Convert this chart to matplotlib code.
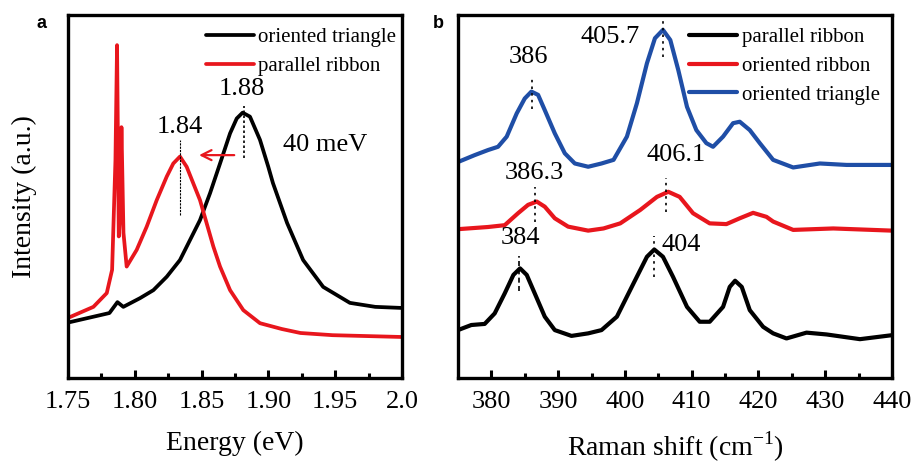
import numpy as np
import matplotlib.pyplot as plt

plt.rcParams['font.family'] = ['Liberation Serif', 'DejaVu Serif']
plt.rcParams['mathtext.fontset'] = 'custom'
plt.rcParams['mathtext.rm'] = 'Liberation Serif'

# ---- panel a: PL spectra (normalised intensity, arbitrary units) ----
pl_tri_e = [1.7515, 1.781, 1.787, 1.7914, 1.8039, 1.8139, 1.8239, 1.8338,
            1.8413, 1.8488, 1.8563, 1.8638, 1.8713, 1.8763, 1.8807, 1.8862,
            1.8937, 1.8999, 1.9034, 1.914, 1.926, 1.941, 1.961, 1.98, 2.0]
pl_tri_i = [0.154, 0.179, 0.209, 0.196, 0.220, 0.242, 0.279, 0.325,
            0.380, 0.435, 0.509, 0.591, 0.674, 0.715, 0.731, 0.720,
            0.656, 0.582, 0.537, 0.427, 0.325, 0.251, 0.207, 0.196, 0.193]

pl_rib_e = [1.7515, 1.769, 1.779, 1.783, 1.7855, 1.7867, 1.788, 1.789, 1.790,
            1.7915, 1.7939, 1.8014, 1.8089, 1.8164, 1.8239, 1.8288, 1.8338,
            1.8388, 1.8438, 1.8488, 1.8538, 1.8588, 1.8638, 1.8713, 1.8812,
            1.8937, 1.91, 1.924, 1.948, 2.0]
pl_rib_i = [0.168, 0.196, 0.234, 0.298, 0.60, 0.917, 0.39, 0.45, 0.691,
            0.40, 0.307, 0.353, 0.417, 0.490, 0.555, 0.591, 0.610,
            0.582, 0.536, 0.490, 0.426, 0.362, 0.307, 0.242, 0.187,
            0.151, 0.135, 0.124, 0.118, 0.113]

# ---- panel b: Raman spectra ----
ram_tri_w = [375.0, 377.5, 379.5, 381.0, 382.3, 383.8, 385.0, 386.0, 387.0,
             388.0, 389.5, 391.0, 392.5, 394.5, 396.5, 398.3, 400.3, 401.8,
             403.3, 404.5, 405.7, 406.8, 408.0, 409.3, 410.7, 412.2, 413.2,
             414.7, 416.2, 417.2, 418.7, 420.2, 422.2, 425.2, 429.2, 433.2,
             440.0]
ram_tri_i = [0.595, 0.614, 0.628, 0.637, 0.665, 0.729, 0.770, 0.789, 0.780,
             0.738, 0.674, 0.619, 0.591, 0.582, 0.591, 0.601, 0.665, 0.757,
             0.867, 0.936, 0.959, 0.931, 0.848, 0.747, 0.683, 0.647, 0.637,
             0.665, 0.702, 0.706, 0.683, 0.647, 0.601, 0.580, 0.591, 0.587,
             0.587]

ram_orib_w = [375.0, 379.5, 382.0, 384.0, 385.5, 386.8, 388.0, 389.5, 391.5,
              394.5, 396.8, 399.3, 402.3, 404.8, 406.5, 408.2, 410.2, 412.7,
              415.2, 417.2, 419.2, 421.2, 422.2, 425.2, 431.2, 440.0]
ram_orib_i = [0.410, 0.416, 0.421, 0.454, 0.477, 0.486, 0.472, 0.440, 0.417,
              0.406, 0.412, 0.426, 0.463, 0.499, 0.513, 0.499, 0.454, 0.426,
              0.424, 0.440, 0.455, 0.444, 0.431, 0.408, 0.412, 0.406]

ram_prib_w = [375.0, 377.0, 379.0, 380.5, 382.0, 383.3, 384.3, 385.3, 386.5,
              388.0, 389.5, 392.0, 394.5, 396.5, 398.8, 401.3, 403.3, 404.4,
              405.7, 407.2, 409.3, 411.2, 412.7, 414.7, 415.7, 416.5, 417.5,
              418.7, 420.7, 422.2, 424.2, 427.2, 430.2, 435.2, 440.0]
ram_prib_i = [0.132, 0.146, 0.149, 0.178, 0.233, 0.284, 0.302, 0.284, 0.233,
              0.169, 0.132, 0.116, 0.123, 0.132, 0.169, 0.261, 0.334, 0.354,
              0.334, 0.279, 0.196, 0.155, 0.155, 0.196, 0.251, 0.268, 0.251,
              0.187, 0.141, 0.123, 0.109, 0.125, 0.120, 0.107, 0.118]

RED = '#e8161d'
BLUE = '#1f4ea6'


def style_axis(ax):
    for s in ax.spines.values():
        s.set_linewidth(2.4)
    ax.set_yticks([])
    ax.tick_params(axis='x', which='both', direction='in', width=2.2,
                   labelsize=19, top=False, pad=9)
    ax.tick_params(axis='x', which='major', length=6)
    ax.tick_params(axis='x', which='minor', length=3.5)
    ax.set_ylim(0, 1)


line = dict(solid_joinstyle='round', solid_capstyle='round')

fig = plt.figure(figsize=(9.13, 4.62), dpi=100)
axa = fig.add_axes([0.0745, 0.1818, 0.3658, 0.7857])
axb = fig.add_axes([0.5016, 0.1818, 0.4754, 0.7857])

# panel a
axa.plot(pl_tri_e, pl_tri_i, color='black', lw=2.7, label='oriented triangle', **line)
axa.plot(pl_rib_e, pl_rib_i, color=RED, lw=2.7, label='parallel ribbon', **line)
style_axis(axa)
axa.set_xlim(1.75, 2.0)
axa.set_xticks([1.75, 1.80, 1.85, 1.90, 1.95, 2.0])
axa.set_xticklabels(['1.75', '1.80', '1.85', '1.90', '1.95', '2.0'])
axa.set_xticks(np.arange(1.775, 2.0, 0.05), minor=True)
axa.set_xlabel('Energy (eV)', fontsize=20, labelpad=13)
axa.set_ylabel('Intensity (a.u.)', fontsize=20, labelpad=22)
axa.legend(loc='upper right', bbox_to_anchor=(1.02, 1.0), frameon=False,
           fontsize=15, handlelength=2.3, handletextpad=0.2,
           labelspacing=0.44, borderaxespad=0.2)

axa.plot([1.8815, 1.8815], [0.605, 0.75], color='black', lw=1.2, ls=(0, (1.5, 1.5)))
axa.plot([1.834, 1.834], [0.45, 0.655], color='black', lw=0.8, ls=(0, (2, 1)))
axa.text(1.88, 0.795, '1.88', fontsize=19, ha='center', va='center')
axa.text(1.8335, 0.692, '1.84', fontsize=19, ha='center', va='center')
axa.text(1.911, 0.642, '40 meV', fontsize=19, ha='left', va='center')
axa.annotate('', xy=(1.846, 0.614), xytext=(1.8765, 0.614),
             arrowprops=dict(arrowstyle='->', color=RED, lw=1.6,
                             mutation_scale=18))

# panel b
axb.plot(ram_prib_w, ram_prib_i, color='black', lw=3.0, label='parallel ribbon', **line)
axb.plot(ram_orib_w, ram_orib_i, color=RED, lw=3.0, label='oriented ribbon', **line)
axb.plot(ram_tri_w, ram_tri_i, color=BLUE, lw=3.0, label='oriented triangle', **line)
style_axis(axb)
axb.set_xlim(375, 440)
axb.set_xticks(np.arange(380, 441, 10))
axb.set_xticks(np.arange(385, 440, 10), minor=True)
axb.set_xlabel('Raman shift (cm$^{-1}$)', fontsize=20, labelpad=12)
axb.legend(loc='upper right', bbox_to_anchor=(1.0, 1.0), frameon=False,
           fontsize=15, handlelength=2.3, handletextpad=0.2,
           labelspacing=0.44, borderaxespad=0.2)

dot = dict(color='black', lw=1.2, ls=(0, (1.5, 2.5)))
axb.plot([405.7, 405.7], [0.885, 0.99], **dot)
axb.plot([386.1, 386.1], [0.74, 0.83], **dot)
axb.plot([406.2, 406.2], [0.457, 0.55], **dot)
axb.plot([386.5, 386.5], [0.43, 0.525], **dot)
axb.plot([404.4, 404.4], [0.278, 0.39], **dot)
axb.plot([384.1, 384.1], [0.24, 0.335], color='black', lw=1.2, ls=(0, (3, 2)))

axb.text(397.8, 0.939, '405.7', fontsize=19, ha='center', va='center')
axb.text(385.5, 0.884, '386', fontsize=19, ha='center', va='center')
axb.text(407.6, 0.614, '406.1', fontsize=19, ha='center', va='center')
axb.text(386.5, 0.565, '386.3', fontsize=19, ha='center', va='center')
axb.text(384.3, 0.386, '384', fontsize=19, ha='center', va='center')
axb.text(405.5, 0.366, '404', fontsize=19, ha='left', va='center')

fig.text(0.046, 0.95, 'a', fontsize=13, fontweight='bold',
         family=['Liberation Sans', 'DejaVu Sans'], ha='center', va='center')
fig.text(0.480, 0.95, 'b', fontsize=13, fontweight='bold',
         family=['Liberation Sans', 'DejaVu Sans'], ha='center', va='center')

fig.savefig('out.png', dpi=100)
